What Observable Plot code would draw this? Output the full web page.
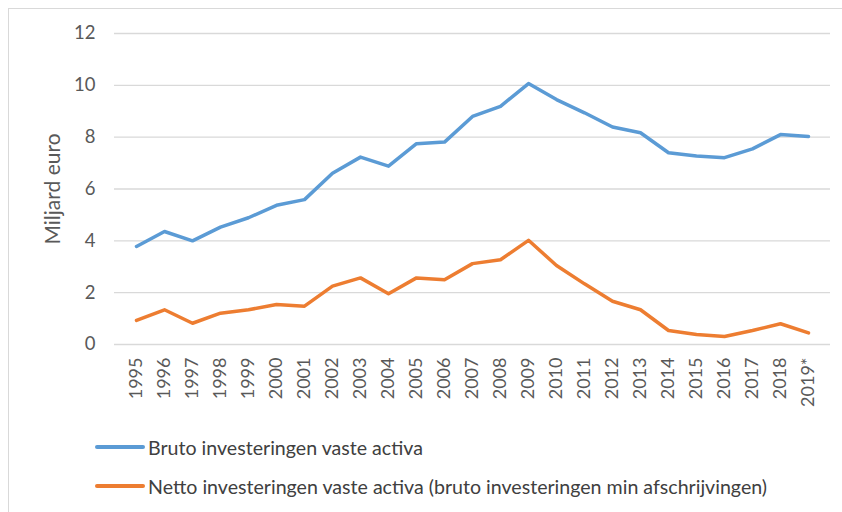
<!DOCTYPE html>
<html>
<head>
<meta charset="utf-8">
<script src="https://cdn.jsdelivr.net/npm/d3@7"></script>
<script src="https://cdn.jsdelivr.net/npm/@observablehq/plot@0.6"></script>
<style>
  html, body { margin: 0; padding: 0; background: #fff; }
  #wrap { position: relative; width: 842px; height: 512px; overflow: hidden; font-family: Lato, "Open Sans", sans-serif; }
  #frame { position: absolute; left: 8px; top: 8px; width: 900px; height: 600px; border-left: 1.5px solid #d9d9d9; border-top: 1.5px solid #d9d9d9; box-sizing: border-box; }
  #chart { position: absolute; left: 0; top: 0; }
  #legend { position: absolute; left: 95px; top: 435px; font-size: 19.6px; color: #404040; }
  .item { display: flex; align-items: center; height: 24px; margin-bottom: 15px; white-space: nowrap; }
  .swatch { width: 50px; height: 4px; border-radius: 2px; margin-right: 3px; flex: none; }
</style>
</head>
<body>
<div id="wrap">
  <div id="frame"></div>
  <div id="chart"></div>
  <div id="legend"></div>
</div>
<script>
const years = ["1995","1996","1997","1998","1999","2000","2001","2002","2003","2004","2005","2006","2007","2008","2009","2010","2011","2012","2013","2014","2015","2016","2017","2018","2019*"];
const bruto = [3.78,4.36,4.00,4.53,4.89,5.37,5.59,6.61,7.23,6.88,7.75,7.81,8.80,9.19,10.07,9.45,8.94,8.39,8.17,7.40,7.27,7.21,7.55,8.10,8.03];
const netto = [0.93,1.34,0.82,1.21,1.34,1.54,1.48,2.25,2.57,1.96,2.57,2.50,3.12,3.27,4.02,3.05,2.34,1.67,1.34,0.54,0.39,0.31,0.54,0.80,0.45];
const seriesNames = ["Bruto investeringen vaste activa", "Netto investeringen vaste activa (bruto investeringen min afschrijvingen)"];
const seriesColors = ["#5B9BD5", "#ED7D31"];
const yTicks = [0, 2, 4, 6, 8, 10, 12];
const yLabel = "Miljard euro";

const data = [];
years.forEach((y, i) => {
  data.push({year: y, value: bruto[i], series: seriesNames[0]});
  data.push({year: y, value: netto[i], series: seriesNames[1]});
});

const plot = Plot.plot({
  width: 842,
  height: 420,
  marginLeft: 114,
  marginRight: 12,
  marginTop: 33,
  marginBottom: 76,
  style: {fontFamily: "Lato, 'Open Sans', sans-serif", background: "transparent", color: "#595959"},
  x: {type: "point", domain: years, padding: 0.5, label: null},
  y: {domain: [0, 12], label: null},
  color: {domain: seriesNames, range: seriesColors},
  marks: [
    Plot.ruleY(yTicks, {stroke: "#d9d9d9", strokeWidth: 1.3}),
    Plot.axisY(yTicks, {tickSize: 0, tickPadding: 19, fontSize: 18.5, fill: "#595959", label: null}),
    Plot.axisX(years, {tickSize: 0, tickPadding: 13, tickRotate: -90, fontSize: 18, fill: "#595959", label: null}),
    Plot.line(data, {x: "year", y: "value", z: "series", stroke: "series", strokeWidth: 3.5, strokeLinejoin: "round", strokeLinecap: "round"}),
    Plot.text([yLabel], {frameAnchor: "left", textAnchor: "middle", dx: -61, rotate: -90, fontSize: 21, fill: "#595959"})
  ]
});
document.getElementById("chart").appendChild(plot);

const legend = document.getElementById("legend");
seriesNames.forEach((name, i) => {
  const item = document.createElement("div");
  item.className = "item";
  const sw = document.createElement("div");
  sw.className = "swatch";
  sw.style.background = seriesColors[i];
  const label = document.createElement("span");
  label.textContent = name;
  item.appendChild(sw);
  item.appendChild(label);
  legend.appendChild(item);
});
</script>
</body>
</html>
